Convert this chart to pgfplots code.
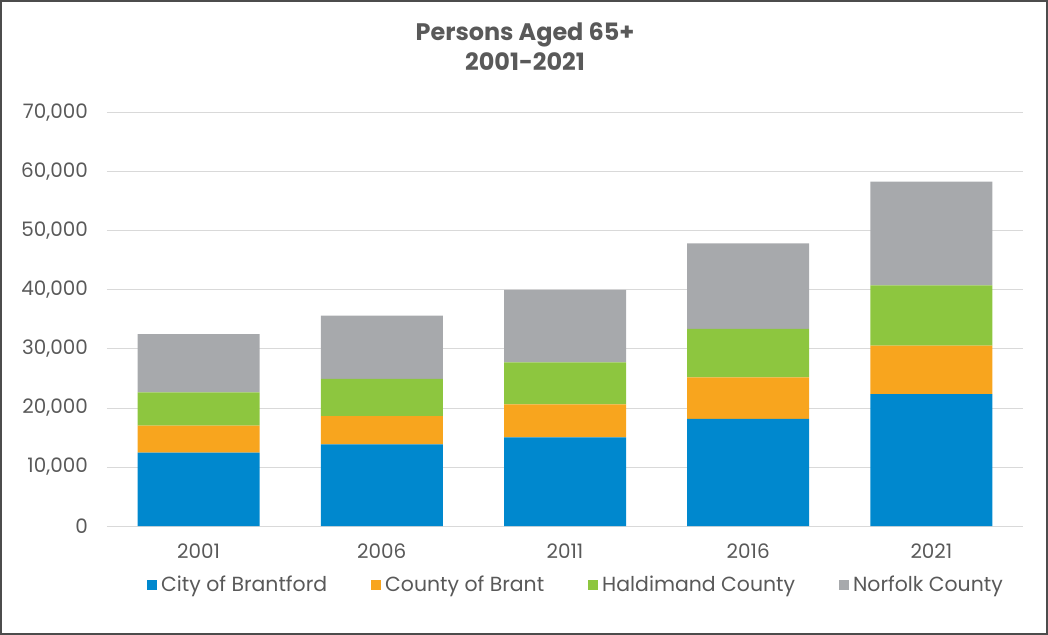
\documentclass[border=0pt]{standalone}
\usepackage{fontspec}
\setmainfont{Poppins}
\usepackage{pgfplots}
\pgfplotsset{compat=1.18}
\definecolor{cBlue}{HTML}{0088CE}
\definecolor{cOrange}{HTML}{F8A51E}
\definecolor{cGreen}{HTML}{8DC63F}
\definecolor{cGray}{HTML}{A7A9AC}
\definecolor{gridgray}{HTML}{D9D9D9}
\definecolor{textgray}{HTML}{595959}
\begin{document}
\begin{tikzpicture}
\useasboundingbox (-107bp,-109bp) rectangle (941bp,526bp);
\draw[line width=1.3bp, color=black!70] (-106bp,-108bp) rectangle (940bp,525bp);
\node[align=center, text=textgray, font=\bfseries\fontsize{24}{30}\selectfont] at (418bp,479bp) {Persons Aged 65+\\2001-2021};
\begin{axis}[
  at={(0,0)}, anchor=south west,
  scale only axis, width=916bp, height=413bp,
  ybar stacked, bar width=122bp,
  xmin=-0.5, xmax=4.5, ymin=0, ymax=70000,
  xtick={0,1,2,3,4},
  xticklabels={2001,2006,2011,2016,2021},
  ytick={0,10000,20000,30000,40000,50000,60000,70000},
  ymajorgrids, grid style={color=gridgray, line width=1bp},
  axis line style={draw=none},
  major tick length=0pt,
  scaled y ticks=false,
  /pgf/number format/.cd, fixed, 1000 sep={,}, assume math mode=true,
  /pgfplots/.cd,
  ticklabel style={font=\fontsize{20}{20}\selectfont, text=textgray},
  yticklabel style={inner sep=0pt, anchor=east, xshift=-19bp},
  xticklabel style={inner sep=0pt, anchor=north, yshift=-18bp},
  legend columns=4,
  legend style={draw=none, fill=none, at={(0.512,-0.142)}, anchor=center,
    font=\fontsize{20.5}{20}\selectfont, text=textgray,
    /tikz/every odd column/.append style={column sep=2bp},
    /tikz/every even column/.append style={column sep=42bp}},
  legend image code/.code={\fill (0bp,-5bp) rectangle (10bp,5bp);},
]
\addplot[fill=cBlue, draw=none] coordinates {(0,12420) (1,13840) (2,15030) (3,18140) (4,22370)};
\addplot[fill=cOrange, draw=none] coordinates {(0,4580) (1,4800) (2,5590) (3,7060) (4,8190)};
\addplot[fill=cGreen, draw=none] coordinates {(0,5660) (1,6280) (2,7120) (3,8190) (4,10230)};
\addplot[fill=cGray, draw=none] coordinates {(0,9880) (1,10720) (2,12260) (3,14520) (4,17570)};
\legend{City of Brantford, County of Brant, Haldimand County, Norfolk County}
\end{axis}
\end{tikzpicture}
\end{document}
